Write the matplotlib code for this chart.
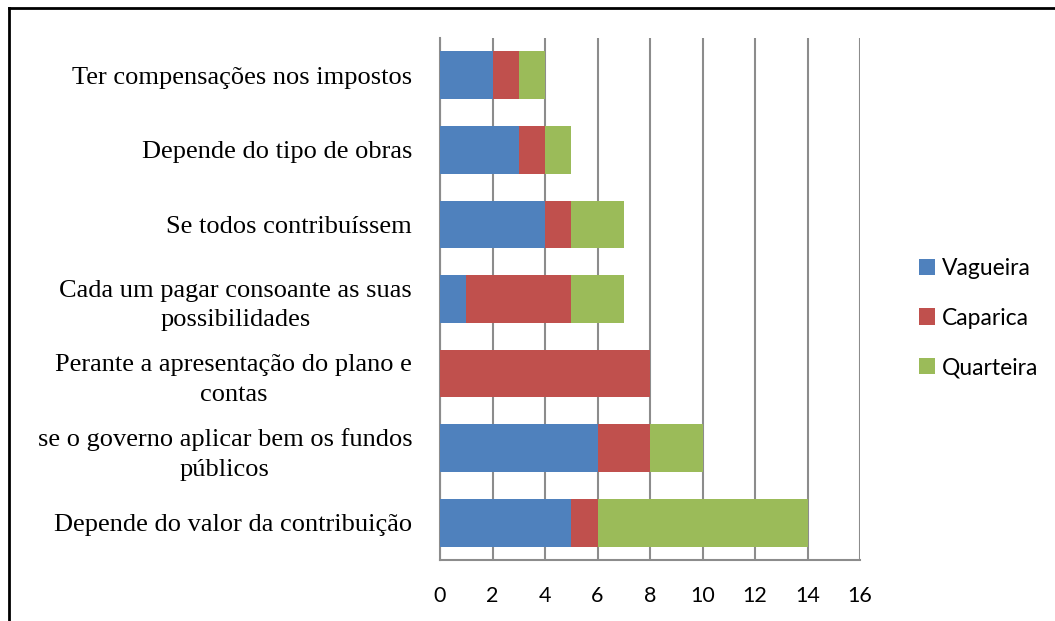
import numpy as np
import matplotlib
matplotlib.use("Agg")
import matplotlib.pyplot as plt
from matplotlib.lines import Line2D

# categories listed bottom to top
categories = [
    "Depende do valor da contribuição",
    "se o governo aplicar bem os fundos\npúblicos",
    "Perante a apresentação do plano e\ncontas",
    "Cada um pagar consoante as suas\npossibilidades",
    "Se todos contribuíssem",
    "Depende do tipo de obras",
    "Ter compensações nos impostos",
]
vagueira = [5, 6, 0, 1, 4, 3, 2]
caparica = [1, 2, 8, 4, 1, 1, 1]
quarteira = [8, 2, 0, 2, 2, 1, 1]
series_names = ["Vagueira", "Caparica", "Quarteira"]
colors = ["#4F81BD", "#C0504D", "#9BBB59"]
xticks = [0, 2, 4, 6, 8, 10, 12, 14, 16]

fig = plt.figure(figsize=(10.55, 6.21), dpi=100)
ax = fig.add_axes([440 / 1055, 1 - 560 / 621, 420 / 1055, 522 / 621])

y = np.arange(len(categories))
left = np.zeros(len(categories))
for vals, name, c in zip([vagueira, caparica, quarteira], series_names, colors):
    ax.barh(y, vals, left=left, height=0.64, color=c, label=name, zorder=3)
    left += np.array(vals)

ax.set_xlim(0, 16)
ax.set_ylim(-0.5, len(categories) - 0.5)
ax.set_xticks(xticks)
ax.set_xticklabels([str(t) for t in xticks], fontfamily="Lato", fontsize=15.5)
ax.set_yticks(y)
ax.set_yticklabels(categories, fontfamily="Liberation Serif", fontsize=19,
                   ha="right", multialignment="center", linespacing=1.45)
ax.tick_params(axis="y", length=0, pad=20)
ax.tick_params(axis="x", length=0, pad=19)

ax.grid(axis="x", color="#8C8C8C", linewidth=1.5, zorder=0)
for s in ["top", "right"]:
    ax.spines[s].set_visible(False)
for s in ["left", "bottom"]:
    ax.spines[s].set_color("#8C8C8C")
    ax.spines[s].set_linewidth(1.5)

leg = fig.legend(loc="center left", bbox_to_anchor=(898 / 1055, 1 - 318 / 621),
                 frameon=False, prop={"family": "Lato", "size": 16.5},
                 handlelength=0.7, handleheight=0.7, handletextpad=0.3,
                 labelspacing=1.25)

# frame lines at top and left of the picture
fig.add_artist(Line2D([9 / 1055, 9 / 1055], [0, 1 - 8 / 621], color="black",
                      linewidth=2, transform=fig.transFigure))
fig.add_artist(Line2D([9 / 1055, 1], [1 - 8 / 621, 1 - 8 / 621], color="black",
                      linewidth=2, transform=fig.transFigure))

fig.savefig("out.png", dpi=100)
